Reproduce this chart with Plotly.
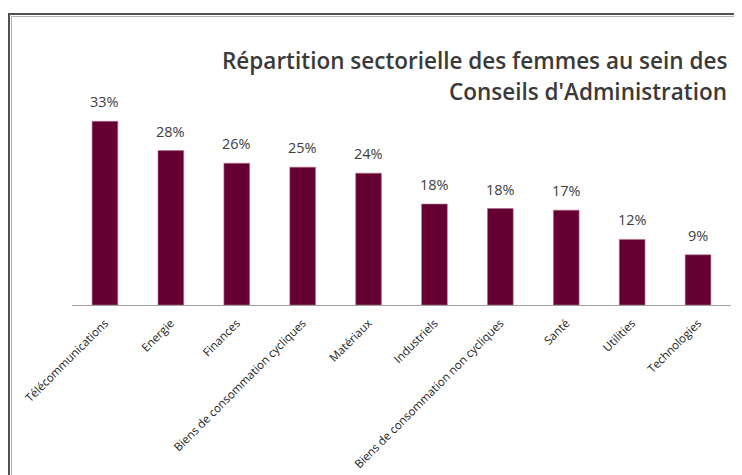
import plotly.graph_objects as go

categories = ["Télécommunications", "Energie", "Finances", "Biens de consommation cycliques",
              "Matériaux", "Industriels", "Biens de consommation non cycliques", "Santé",
              "Utilities", "Technologies"]
values = [33.3, 28.0, 25.7, 25.0, 23.9, 18.3, 17.5, 17.2, 11.9, 9.1]
title_lines = ["Répartition sectorielle des femmes au sein des", "Conseils d'Administration"]

# page body offsets the figure by 8px; screen coords -> figure coords
OFF = 8
W, H = 742, 475
L, R, T, B = 72 - OFF, 19, 112 - OFF, 176
pw, ph = W - L - R, H - T - B

def px(x):
    return (x - OFF - L) / pw

def py(y):
    return (H - B - (y - OFF)) / ph

fig = go.Figure(go.Bar(
    x=categories, y=values,
    marker=dict(color="#660033", line=dict(color="#b07090", width=0.6)),
    width=0.39,
    cliponaxis=False,
))

for c, v in zip(categories, values):
    fig.add_annotation(x=c, y=v, text=f"{v:.0f}%", showarrow=False, yanchor="bottom",
                       yshift=8, font=dict(family="Open Sans", size=14.5, color="#404040"))

fig.update_layout(
    width=W, height=H,
    margin=dict(l=L, r=R, t=T, b=B),
    paper_bgcolor="white", plot_bgcolor="white",
    showlegend=False,
    xaxis=dict(tickangle=-45, showline=True, linecolor="#a0a0a0", linewidth=1,
               ticks="", tickfont=dict(family="Open Sans", size=11.5, color="#202020"),
               ticklabelstandoff=6,
               showgrid=False, range=[-0.5, 9.5]),
    yaxis=dict(visible=False, range=[0, 35], showgrid=False),
    font=dict(family="Open Sans"),
)

fig.add_annotation(x=px(729), y=py(60), xref="paper", yref="paper", xanchor="right", yanchor="middle",
                   text=title_lines[0], showarrow=False,
                   font=dict(family="Open Sans", size=22.5, color="#3a3a3a", weight=600))
fig.add_annotation(x=px(729), y=py(91), xref="paper", yref="paper", xanchor="right", yanchor="middle",
                   text=title_lines[1], showarrow=False,
                   font=dict(family="Open Sans", size=22.5, color="#3a3a3a", weight=600))

fig.add_shape(type="rect", xref="paper", yref="paper",
              x0=px(9), x1=px(770), y0=py(13), y1=py(500),
              line=dict(color="#505050", width=2), fillcolor="rgba(0,0,0,0)", layer="above")
fig.add_shape(type="rect", xref="paper", yref="paper",
              x0=px(11.5), x1=px(770), y0=py(15.5), y1=py(500),
              line=dict(color="#b0b0b0", width=1), fillcolor="rgba(0,0,0,0)", layer="above")

fig.write_html("out.html")
